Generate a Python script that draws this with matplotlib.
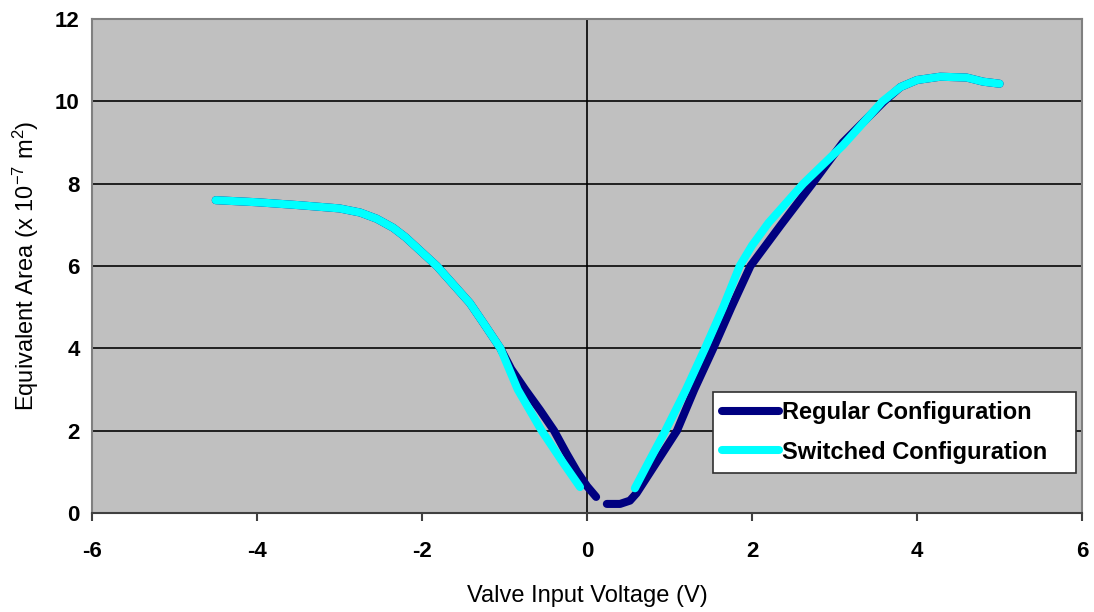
import matplotlib.pyplot as plt

plt.rcParams['font.family'] = ['Liberation Sans', 'DejaVu Sans']
plt.rcParams['axes.unicode_minus'] = False
plt.rcParams['mathtext.fontset'] = 'custom'
plt.rcParams['mathtext.rm'] = 'Liberation Sans'
plt.rcParams['mathtext.default'] = 'rm'

# Regular configuration: two traces either side of the dead zone
reg_left_v = [-4.5, -4.0, -3.5, -3.0, -2.75, -2.55, -2.35, -2.2, -1.82, -1.42, -1.25, -1.05, -0.92, -0.75, -0.57, -0.4, -0.25, -0.12, 0.0, 0.11]
reg_left_a = [7.6, 7.55, 7.48, 7.4, 7.3, 7.15, 6.93, 6.7, 6.0, 5.1, 4.6, 4.0, 3.5, 3.0, 2.5, 2.0, 1.45, 1.0, 0.65, 0.39]
reg_right_v = [0.24, 0.4, 0.52, 0.6, 0.8, 1.09, 1.3, 1.53, 1.75, 1.98, 2.35, 2.73, 3.1, 3.35, 3.6, 3.8, 4.0, 4.28, 4.6, 4.8, 5.0]
reg_right_a = [0.22, 0.22, 0.3, 0.48, 1.1, 2.0, 3.0, 4.0, 5.0, 6.0, 7.0, 8.0, 9.0, 9.5, 10.0, 10.35, 10.52, 10.6, 10.58, 10.48, 10.43]

# Switched configuration
sw_left_v = [-4.5, -4.0, -3.5, -3.0, -2.75, -2.55, -2.35, -2.2, -1.82, -1.42, -1.25, -1.05, -0.84, -0.55, -0.3, -0.085]
sw_left_a = [7.6, 7.55, 7.48, 7.4, 7.3, 7.15, 6.93, 6.7, 6.0, 5.1, 4.6, 4.0, 3.0, 2.0, 1.25, 0.63]
sw_right_v = [0.58, 0.75, 0.95, 1.2, 1.43, 1.65, 1.85, 2.0, 2.2, 2.62, 3.1, 3.58, 3.8, 4.0, 4.28, 4.6, 4.8, 5.0]
sw_right_a = [0.6, 1.25, 2.0, 3.0, 4.0, 5.0, 6.0, 6.5, 7.05, 8.0, 8.93, 10.0, 10.35, 10.52, 10.6, 10.58, 10.48, 10.43]

navy = '#000080'
cyan = '#00ffff'
lw = 5.8

fig = plt.figure(figsize=(10.94, 6.12), dpi=100)
ax = fig.add_axes([0.0841, 0.1618, 0.905, 0.807])
ax.set_facecolor('#c0c0c0')

for y in [2, 4, 6, 8, 10]:
    ax.axhline(y, color='#202020', lw=1.4, zorder=1)
ax.axvline(0, color='black', lw=1.2, zorder=1)

line_kw = dict(lw=lw, solid_capstyle='round', solid_joinstyle='round')
ax.plot(reg_left_v, reg_left_a, color=navy, zorder=2, label='Regular Configuration', **line_kw)
ax.plot(reg_right_v, reg_right_a, color=navy, zorder=2, **line_kw)
ax.plot(sw_left_v, sw_left_a, color=cyan, zorder=3, label='Switched Configuration', **line_kw)
ax.plot(sw_right_v, sw_right_a, color=cyan, zorder=3, **line_kw)

ax.set_xlim(-6, 6)
ax.set_ylim(0, 12)
ax.set_xticks(range(-6, 7, 2))
ax.set_yticks(range(0, 13, 2))

for side in ['top', 'right', 'left']:
    ax.spines[side].set_color('#808080')
    ax.spines[side].set_linewidth(1.5)
ax.spines['bottom'].set_color('#404040')
ax.spines['bottom'].set_linewidth(1.5)

ax.tick_params(axis='x', direction='out', length=6, width=1.5, color='#404040',
               pad=14, labelsize=16)
ax.tick_params(axis='y', length=0, pad=9, labelsize=16)
for lbl in ax.get_xticklabels() + ax.get_yticklabels():
    lbl.set_fontweight('bold')

ax.set_xlabel('Valve Input Voltage (V)', fontsize=17, labelpad=17)
ax.set_ylabel('Equivalent Area (x 10$^{-7}$ m$^{2}$)', fontsize=17, labelpad=10)

leg = ax.legend(loc='lower left', bbox_to_anchor=(0.627, 0.081, 0.367, 0.17),
                mode='expand', prop={'size': 17, 'weight': 'bold'},
                frameon=True, fancybox=False, handlelength=2.4, handletextpad=0.15,
                borderpad=0.4, labelspacing=0.7, borderaxespad=0.0)
leg.get_frame().set_edgecolor('#303030')
leg.get_frame().set_linewidth(1.2)
leg.get_frame().set_facecolor('white')
leg.get_frame().set_alpha(1)

fig.savefig('out.png', dpi=100)
